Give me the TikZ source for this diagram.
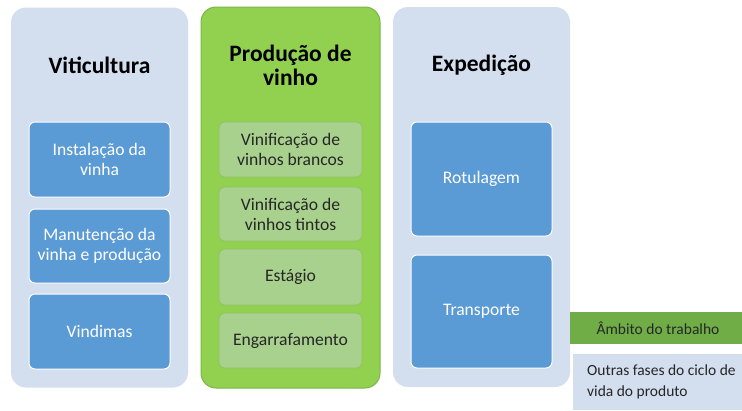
\documentclass[tikz,border=0pt]{standalone}
\usepackage{fontspec}
\setmainfont{Carlito}
\definecolor{colbg}{HTML}{D3DEEF}
\definecolor{bluebox}{HTML}{5B9BD5}
\definecolor{greencol}{HTML}{92D050}
\definecolor{greenedge}{HTML}{7AB648}
\definecolor{greenbox}{HTML}{A9D18E}
\definecolor{greenboxedge}{HTML}{8DC26A}
\definecolor{legendgreen}{HTML}{70AD47}
\definecolor{darktext}{HTML}{262626}
\tikzset{
  column/.style={rounded corners=15pt, minimum width=177pt, minimum height=380pt, inner sep=0pt},
  title/.style={font=\fontsize{23.5}{24}\selectfont\bfseries, align=center, text=black},
  bluestep/.style={rounded corners=6pt, fill=bluebox, draw=white, line width=1pt, text=white,
    minimum width=141pt, align=center, font=\fontsize{17.6}{20}\selectfont, inner sep=0pt},
  greenstep/.style={rounded corners=6pt, fill=greenbox, draw=greenboxedge, line width=0.8pt, text=darktext,
    minimum width=143pt, align=center, font=\fontsize{17.6}{20}\selectfont, inner sep=0pt},
  legendtext/.style={font=\fontsize{15.5}{21}\selectfont, text=darktext}
}
\begin{document}
\begin{tikzpicture}[x=1pt,y=-1pt]
\useasboundingbox (0,0) rectangle (742,410);
% columns
\node[column, fill=colbg] (c1) at (99.5,197.5) {};
\node[column, fill=greencol, draw=greenedge, line width=1pt, minimum width=179pt, minimum height=381pt] (c2) at (290.5,197.5) {};
\node[column, fill=colbg] (c3) at (481.5,197) {};
% titles
\node[title] (t1) at (99.5,65) {Viticultura};
\node[title] (t2) at (290.5,65) {Produção de\\vinho};
\node[title] (t3) at (481.5,65) {Expedição};
% column 1
\node[bluestep, minimum height=75pt] (v1) at (99.5,159.5) {Instalação da\\vinha};
\node[bluestep, minimum height=74pt] (v2) at (99.5,246) {Manutenção da\\vinha e produção};
\node[bluestep, minimum height=75pt] (v3) at (99.5,331.5) {Vindimas};
% column 2
\node[greenstep, minimum height=55pt] (p1) at (290.5,149.5) {Vinificação de\\vinhos brancos};
\node[greenstep, minimum height=54pt] (p2) at (290.5,214) {Vinificação de\\vinhos tintos};
\node[greenstep, minimum height=56pt] (p3) at (290.5,277) {Estágio};
\node[greenstep, minimum height=55pt] (p4) at (290.5,340.5) {Engarrafamento};
% column 3
\node[bluestep, minimum height=114pt] (e1) at (481.5,179) {Rotulagem};
\node[bluestep, minimum height=113pt] (e2) at (481.5,311.5) {Transporte};
% legend
\node[fill=legendgreen, minimum width=172pt, minimum height=32pt, inner sep=0pt] (l1) at (656,328) {};
\node[legendtext] (l1t) at (658,328) {Âmbito do trabalho};
\node[fill=colbg, minimum width=169pt, minimum height=56pt, inner sep=0pt] (l2) at (657.5,382) {};
\node[legendtext, anchor=west, align=left, inner sep=0pt] (l2t) at (587,382) {Outras fases do ciclo de\\vida do produto};
\end{tikzpicture}
\end{document}
